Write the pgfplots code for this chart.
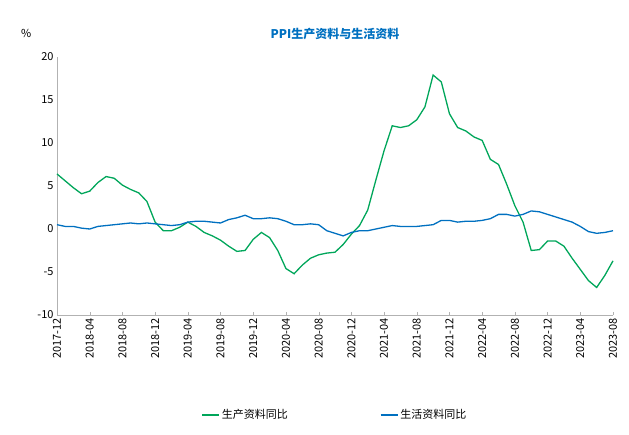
\documentclass[border=0pt]{standalone}
\usepackage{pgfplots}
\pgfplotsset{compat=1.18}
\usepackage{fontspec}
\setmainfont{Noto Sans CJK SC}
\definecolor{cg}{RGB}{0,166,90}
\definecolor{cb}{RGB}{0,112,192}
\begin{document}
\begin{tikzpicture}
\path[use as bounding box] (-57pt,-119pt) rectangle (572pt,315pt);
\begin{axis}[
width=556pt, height=258pt, scale only axis,
at={(0,0)},
xmin=0, xmax=68, ymin=-10, ymax=20,
ytick={-10,-5,0,5,10,15,20},
xtick={0,4,...,68},
xticklabels={2017-12,2018-04,2018-08,2018-12,2019-04,2019-08,2019-12,2020-04,2020-08,2020-12,2021-04,2021-08,2021-12,2022-04,2022-08,2022-12,2023-04,2023-08},
xticklabel style={rotate=90,anchor=east,font=\fontsize{11}{12}\selectfont},
yticklabel style={font=\fontsize{11}{12}\selectfont},
/pgf/number format/assume math mode=true,
axis x line*=bottom, axis y line*=left,
axis line style={gray!60},
tick style={gray!60}, major tick length=3pt,
y tick style={draw=none},
title={\bfseries PPI生产资料与生活资料}, title style={color=cb,font=\fontsize{12}{14}\selectfont\bfseries,yshift=8pt},
legend style={at={(0.5,-0.35)},anchor=north,draw=none,legend columns=2,font=\fontsize{11}{12}\selectfont,/tikz/every even column/.append style={column sep=90pt}},
legend cell align=left,
clip=false,
]
\node[anchor=south east,font=\fontsize{11}{12}\selectfont] at (rel axis cs:-0.04,1.06) {\%};
\addplot[cg,line width=1.3pt,mark=none] coordinates {
(0,6.4)(1,5.6)(2,4.8)(3,4.1)(4,4.4)(5,5.4)(6,6.1)(7,5.9)(8,5.1)(9,4.6)(10,4.2)(11,3.2)
(12,0.8)(13,-0.2)(14,-0.2)(15,0.2)(16,0.8)(17,0.3)(18,-0.4)(19,-0.8)(20,-1.3)(21,-2.0)(22,-2.6)(23,-2.5)
(24,-1.2)(25,-0.4)(26,-1.0)(27,-2.5)(28,-4.6)(29,-5.2)(30,-4.2)(31,-3.4)(32,-3.0)(33,-2.8)(34,-2.7)(35,-1.8)
(36,-0.6)(37,0.4)(38,2.2)(39,5.7)(40,9.1)(41,12.0)(42,11.8)(43,12.0)(44,12.7)(45,14.2)(46,17.9)(47,17.1)
(48,13.4)(49,11.8)(50,11.4)(51,10.7)(52,10.3)(53,8.1)(54,7.5)(55,5.2)(56,2.7)(57,0.8)(58,-2.5)(59,-2.4)
(60,-1.4)(61,-1.4)(62,-2.0)(63,-3.4)(64,-4.7)(65,-6.0)(66,-6.8)(67,-5.4)(68,-3.7)};
\addlegendentry{生产资料同比}
\addplot[cb,line width=1.3pt,mark=none] coordinates {
(0,0.5)(1,0.3)(2,0.3)(3,0.1)(4,0.0)(5,0.3)(6,0.4)(7,0.5)(8,0.6)(9,0.7)(10,0.6)(11,0.7)
(12,0.6)(13,0.5)(14,0.4)(15,0.5)(16,0.8)(17,0.9)(18,0.9)(19,0.8)(20,0.7)(21,1.1)(22,1.3)(23,1.6)
(24,1.2)(25,1.2)(26,1.3)(27,1.2)(28,0.9)(29,0.5)(30,0.5)(31,0.6)(32,0.5)(33,-0.2)(34,-0.5)(35,-0.8)
(36,-0.4)(37,-0.2)(38,-0.2)(39,0.0)(40,0.2)(41,0.4)(42,0.3)(43,0.3)(44,0.3)(45,0.4)(46,0.5)(47,1.0)
(48,1.0)(49,0.8)(50,0.9)(51,0.9)(52,1.0)(53,1.2)(54,1.7)(55,1.7)(56,1.5)(57,1.7)(58,2.1)(59,2.0)
(60,1.7)(61,1.4)(62,1.1)(63,0.8)(64,0.3)(65,-0.3)(66,-0.5)(67,-0.4)(68,-0.2)};
\addlegendentry{生活资料同比}
\end{axis}
\end{tikzpicture}
\end{document}
